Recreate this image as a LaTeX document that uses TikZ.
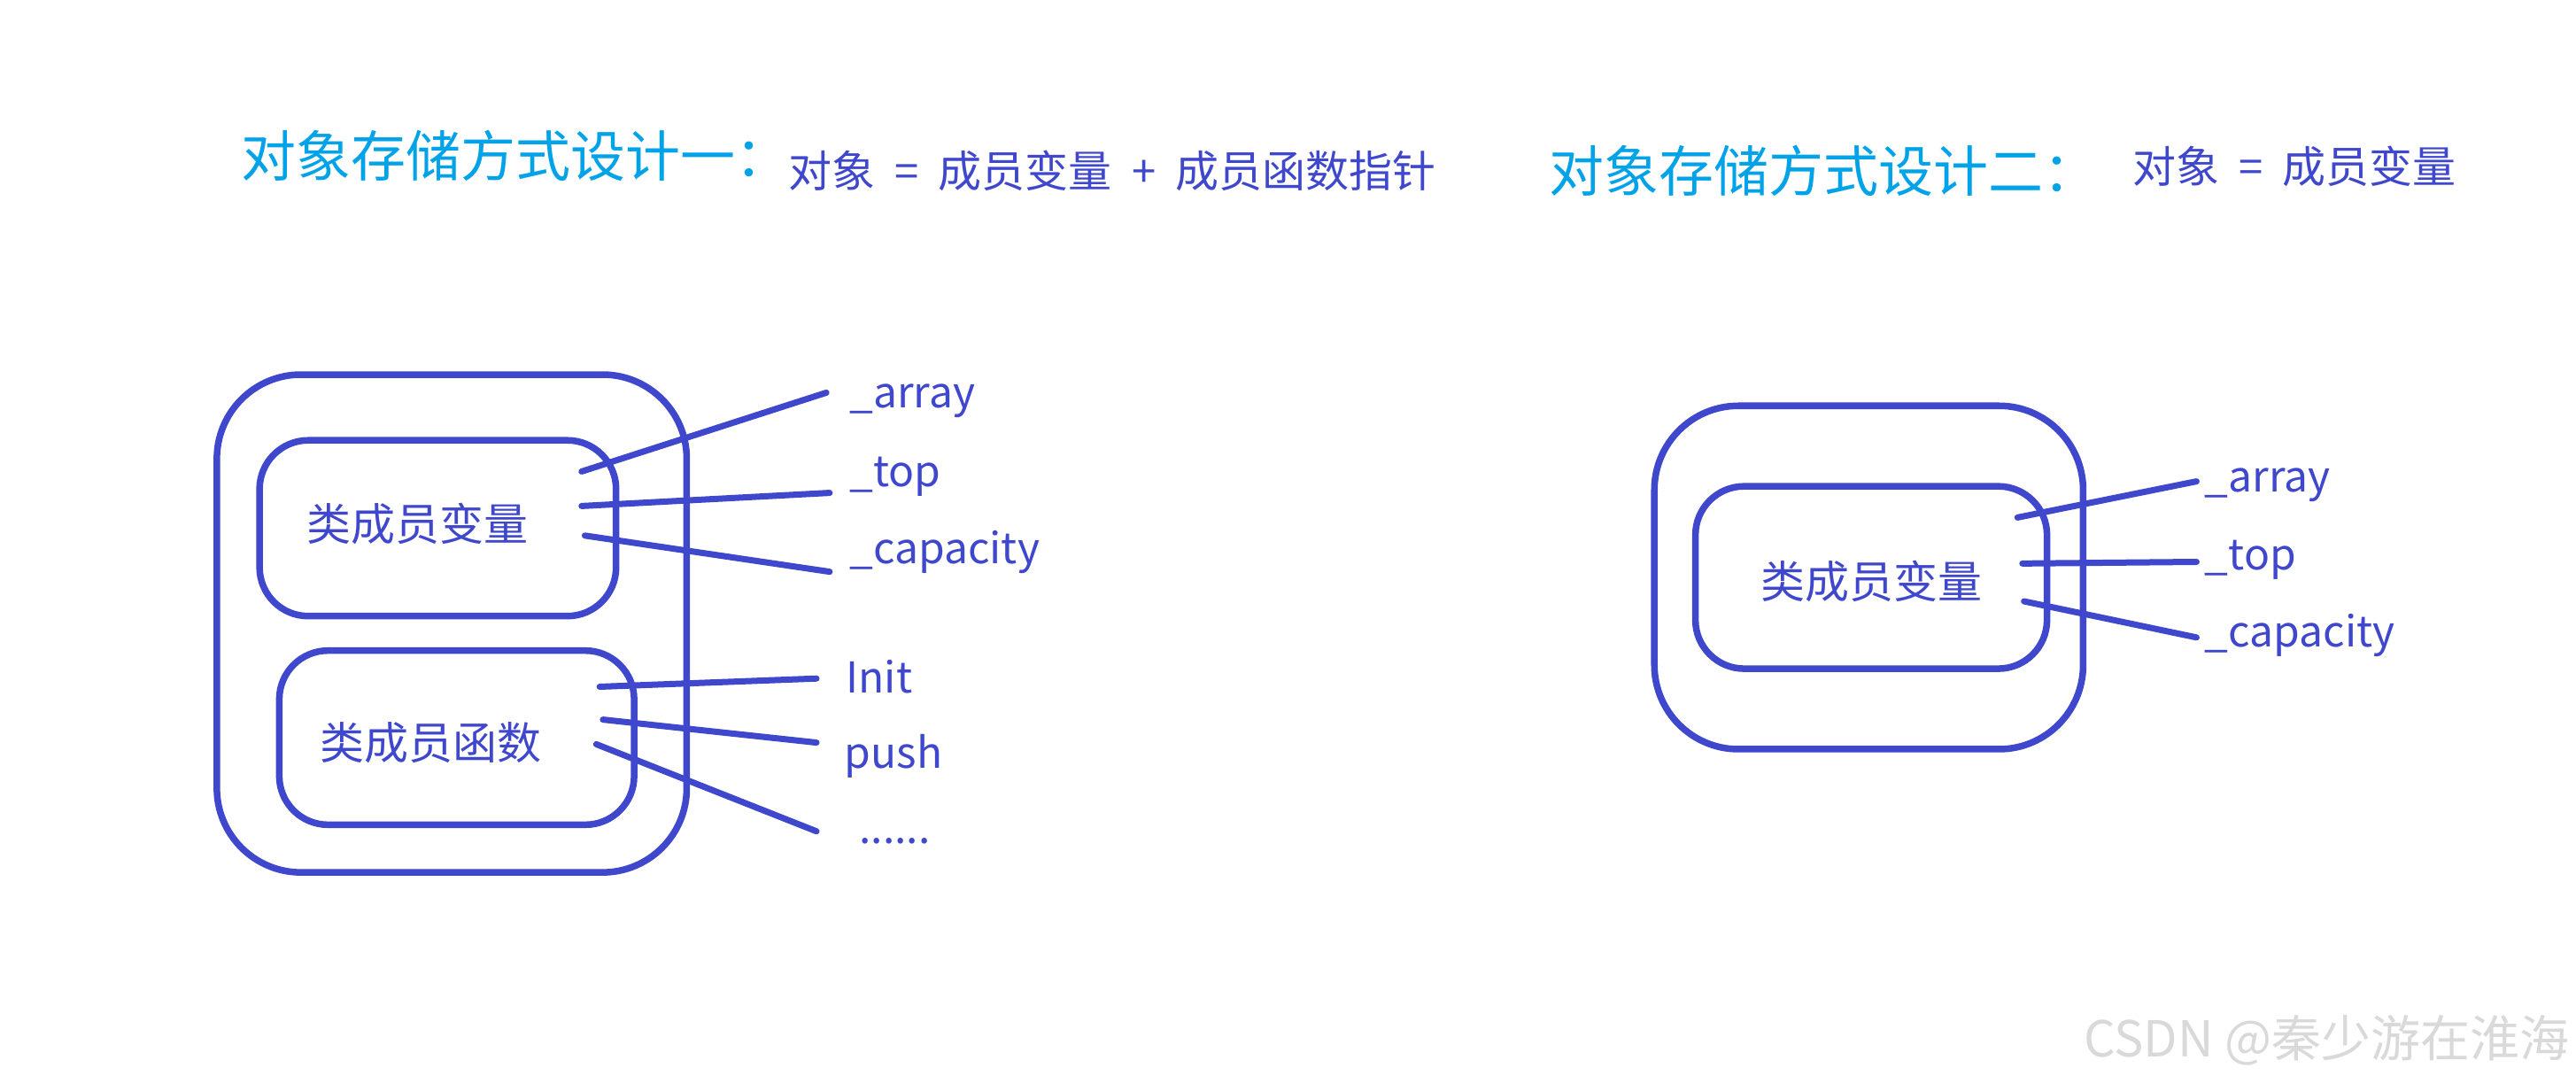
\documentclass[tikz,border=0pt]{standalone}
\usepackage{fontspec}
\setmainfont{Noto Sans CJK SC}
\definecolor{pblue}{HTML}{3F48CC}
\definecolor{pcyan}{HTML}{00A2E8}
\newcommand{\gapsp}{\hspace{0.45em}}
\begin{document}
\begin{tikzpicture}[x=1.8552pt,y=-1.8552pt,
  outerbox/.style={draw=pblue,line width=7.5pt,rounded corners=95pt},
  innerbox/.style={draw=pblue,line width=7.5pt,rounded corners=55pt},
  link/.style={draw=pblue,line width=7pt,line cap=round},
  lbl/.style={anchor=west,inner sep=0pt,text=pblue,font=\fontsize{48pt}{60pt}\selectfont},
  boxtext/.style={inner sep=0pt,text=pblue,font=\fontsize{50pt}{60pt}\selectfont},
  title/.style={anchor=west,inner sep=0pt,text=pcyan,font=\fontsize{62pt}{70pt}\selectfont},
  subtitle/.style={anchor=west,inner sep=0pt,text=pblue,font=\fontsize{49pt}{60pt}\selectfont}]
\useasboundingbox[fill=white] (0,0) rectangle (1568,664);

% titles
\node[title] (t1) at (147,95) {对象存储方式设计一：};
\node[subtitle] (s1) at (480,104) {对象\gapsp{}=\gapsp{}成员变量\gapsp{}+\gapsp{}成员函数指针};
\node[title] (t2) at (943,104) {对象存储方式设计二：};
\node[subtitle] (s2) at (1298,101) {对象\gapsp{}=\gapsp{}成员变量};

% left design
\draw[outerbox] (132,228) rectangle (418,531);
\draw[innerbox] (158,268) rectangle (375,375);
\draw[innerbox] (170,396) rectangle (386,502);
\node[boxtext] (v1) at (254,319) {类成员变量};
\node[boxtext] (f1) at (262,452) {类成员函数};

\node[lbl] (la1) at (517,244) {\_array};
\node[lbl] (lt1) at (517,290) {\_top};
\node[lbl] (lc1) at (517,336) {\_capacity};
\node[lbl] (li1) at (515,412) {Init};
\node[lbl] (lp1) at (514,460) {push};
\node[lbl] (ld1) at (523,512) {......};

\coordinate (a1s) at (354,287); \coordinate (a1e) at (503,239);
\coordinate (b1s) at (354,308); \coordinate (b1e) at (505,300);
\coordinate (c1s) at (356,326); \coordinate (c1e) at (505,348);
\coordinate (d1s) at (365,418); \coordinate (d1e) at (497,413);
\coordinate (e1s) at (367,438); \coordinate (e1e) at (497,452);
\coordinate (g1s) at (363,453); \coordinate (g1e) at (497,506);
\draw[link] (a1s) -- (a1e);
\draw[link] (b1s) -- (b1e);
\draw[link] (c1s) -- (c1e);
\draw[link] (d1s) -- (d1e);
\draw[link] (e1s) -- (e1e);
\draw[link] (g1s) -- (g1e);

% right design
\draw[outerbox] (1007,247) rectangle (1268,456);
\draw[innerbox] (1032,296) rectangle (1246,407);
\node[boxtext] (v2) at (1139,354) {类成员变量};

\node[lbl] (la2) at (1342,295) {\_array};
\node[lbl] (lt2) at (1342,341) {\_top};
\node[lbl] (lc2) at (1342,387) {\_capacity};

\coordinate (a2s) at (1228,315); \coordinate (a2e) at (1337,293);
\coordinate (b2s) at (1231,343); \coordinate (b2e) at (1337,342);
\coordinate (c2s) at (1232,366); \coordinate (c2e) at (1337,388);
\draw[link] (a2s) -- (a2e);
\draw[link] (b2s) -- (b2e);
\draw[link] (c2s) -- (c2e);

% watermark
\node[anchor=east,inner sep=0pt,text=black!15,font=\fontsize{56pt}{60pt}\selectfont] (wm) at (1564,633) {CSDN @秦少游在淮海};
\end{tikzpicture}
\end{document}
